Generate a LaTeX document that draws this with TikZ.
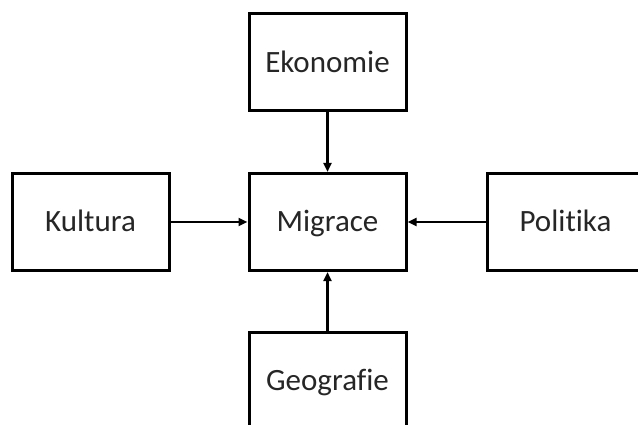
\documentclass[tikz,border=0pt]{standalone}
\usepackage{fontspec}
\setmainfont{Carlito}[Ligatures=CommonOff]
\usetikzlibrary{arrows.meta}
\begin{document}
\begin{tikzpicture}[x=1pt,y=-1pt,
  boxnode/.style={draw=black,line width=3pt,minimum width=157pt,minimum height=97pt,inner sep=0pt,text height=20pt,text depth=0pt,font=\fontsize{31}{36}\selectfont,text=black!85},
  conn/.style={line width=2.6pt,-{Triangle[length=9pt,width=8pt]}}]
\useasboundingbox (0,0) rectangle (638,425);
\clip (0,0) rectangle (638,425);
\fill[white] (0,0) rectangle (638,425);
\node[boxnode] (eko) at (327.5,62.5) {Ekonomie};
\node[boxnode] (kul) at (90.5,222) {Kultura};
\node[boxnode] (mig) at (327.5,222) {Migrace};
\node[boxnode] (pol) at (565.5,222) {Politika};
\node[boxnode] (geo) at (327.5,380.5) {Geografie};
\draw[conn] (eko) -- (mig);
\draw[conn] (kul) -- (mig);
\draw[conn] (pol) -- (mig);
\draw[conn] (geo) -- (mig);
\end{tikzpicture}
\end{document}
